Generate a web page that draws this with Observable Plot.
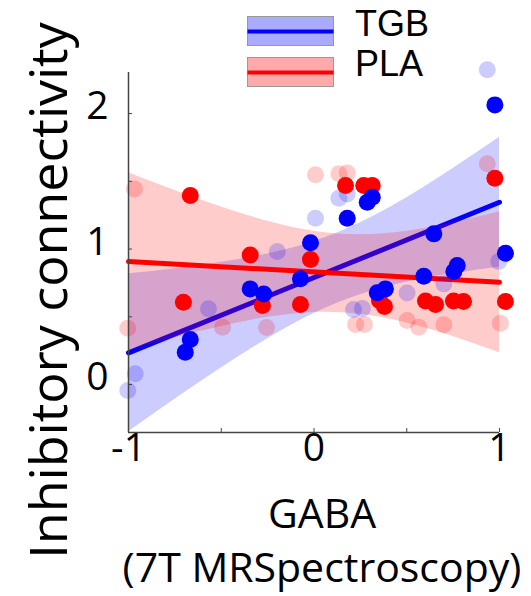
<!DOCTYPE html>
<html><head><meta charset="utf-8">
<script src="https://cdn.jsdelivr.net/npm/d3@7"></script>
<script src="https://cdn.jsdelivr.net/npm/@observablehq/plot@0.6"></script>
<style>
body{margin:0;background:#fff;}
</style></head><body>
<div id="wrap"></div>
<script>
// solid points
const tgbX = [0.975, 0.287, 0.314, 0.179, -0.019, -0.073, -0.344, -0.271, -0.667, -0.694, 0.646, 1.032, 0.772, 0.754, 0.592, 0.385, 0.341];
const tgbY = [2.064, 1.345, 1.382, 1.227, 1.046, 0.780, 0.706, 0.669, 0.332, 0.238, 1.112, 0.969, 0.878, 0.834, 0.799, 0.706, 0.677];
const plaX = [-0.667, -0.344, 0.170, 0.268, 0.314, -0.019, 0.975, -0.704, -0.278, -0.073, 0.353, 0.380, 0.601, 0.655, 0.752, 0.806, 1.032];
const plaY = [1.395, 0.956, 1.469, 1.469, 1.469, 0.923, 1.523, 0.607, 0.583, 0.590, 0.620, 0.576, 0.616, 0.590, 0.616, 0.613, 0.613];
// faded points
const tgbFadedX = [0.934, 0.134, 0.179, 0.008, -0.198, -0.569, -0.964, -1.004, 0.996, 0.700, 0.502, 0.213, 0.261];
const tgbFadedY = [2.323, 1.375, 1.407, 1.227, 0.982, 0.559, 0.079, -0.044, 0.908, 0.743, 0.675, 0.554, 0.561];
const plaFadedX = [-0.968, 0.008, 0.134, 0.179, 0.934, -1.004, -0.493, -0.256, 0.224, 0.272, 0.502, 0.565, 0.700, 1.005];
const plaFadedY = [1.444, 1.548, 1.555, 1.562, 1.629, 0.415, 0.423, 0.421, 0.443, 0.443, 0.472, 0.423, 0.441, 0.452];
// confidence bands
const bandX = [-1, -0.75, -0.5, -0.25, 0, 0.25, 0.5, 0.75, 1];
const tgbLower = [-0.349, -0.109, 0.122, 0.338, 0.524, 0.663, 0.756, 0.818, 0.865];
const tgbUpper = [0.817, 0.855, 0.902, 0.964, 1.056, 1.194, 1.378, 1.594, 1.825];
const plaLower = [0.252, 0.345, 0.429, 0.496, 0.532, 0.518, 0.454, 0.354, 0.235];
const plaUpper = [1.564, 1.433, 1.311, 1.206, 1.132, 1.106, 1.132, 1.194, 1.275];
// fit lines
const fitX = [-1, 1];
const tgbFit = [0.234, 1.345];
const plaFit = [0.908, 0.755];
// axes
const xDomain = [-1, 1];
const yDomain = [-0.354, 2.303];
const xTickMarks = [-1, -0.5, 0, 0.5, 1];
const yTickMarks = [0, 0.5, 1, 1.5, 2];
const xTickVals = [-1, 0, 1];
const xTickLabels = ["-1", "0", "1"];
const yTickVals = [0, 1, 2];
const yTickLabels = ["0", "1", "2"];
const xTitle = "GABA\n(7T MRSpectroscopy)";
const yTitle = "Inhibitory connectivity";
const seriesNames = ["TGB", "PLA"];
const seriesColors = ["blue", "red"];
const legendFills = ["#aaaaff", "#ffaaaa"];

const pts = (xs, ys) => xs.map((x, i) => ({x, y: ys[i]}));
const band = (lo, hi) => bandX.map((x, i) => ({x, lo: lo[i], hi: hi[i]}));

const chart = Plot.plot({
  width: 531, height: 596,
  marginLeft: 128, marginRight: 32, marginTop: 72, marginBottom: 164,
  x: {domain: xDomain},
  y: {domain: yDomain},
  style: {fontFamily: "Open Sans", background: "white", color: "black"},
  marks: [
    Plot.areaY(band(tgbLower, tgbUpper), {x: "x", y1: "lo", y2: "hi", fill: seriesColors[0], fillOpacity: 0.2, curve: "natural", clip: true}),
    Plot.line(pts(fitX, tgbFit), {x: "x", y: "y", stroke: seriesColors[0], strokeWidth: 5}),
    Plot.areaY(band(plaLower, plaUpper), {x: "x", y1: "lo", y2: "hi", fill: seriesColors[1], fillOpacity: 0.2, curve: "natural", clip: true}),
    Plot.line(pts(fitX, plaFit), {x: "x", y: "y", stroke: seriesColors[1], strokeWidth: 5}),
    Plot.dot(pts(plaFadedX, plaFadedY), {x: "x", y: "y", r: 8.5, fill: seriesColors[1], fillOpacity: 0.2}),
    Plot.dot(pts(tgbFadedX, tgbFadedY), {x: "x", y: "y", r: 8.5, fill: seriesColors[0], fillOpacity: 0.2}),
    Plot.dot(pts(plaX, plaY), {x: "x", y: "y", r: 8.5, fill: seriesColors[1]}),
    Plot.dot(pts(tgbX, tgbY), {x: "x", y: "y", r: 8.5, fill: seriesColors[0]}),
    Plot.ruleX([xDomain[0]], {stroke: "#444", strokeWidth: 1.5}),
    Plot.ruleY([yDomain[0]], {stroke: "#444", strokeWidth: 1.5}),
    Plot.axisY(yTickMarks, {tickSize: 4, dx: 4, fill: "none", stroke: "#444", label: null}),
    Plot.axisX(xTickMarks, {tickSize: 4, dy: -4, fill: "none", stroke: "#444", label: null}),
    Plot.axisY(yTickVals, {tickSize: 0, tickPadding: 20, fontSize: 39, dy: -7, label: null,
      tickFormat: d => yTickLabels[yTickVals.indexOf(d)]}),
    Plot.axisX(xTickVals, {tickSize: 0, tickPadding: 1, fontSize: 39, label: null,
      tickFormat: d => xTickLabels[xTickVals.indexOf(d)]}),
    Plot.text([yTitle], {frameAnchor: "left", rotate: -90, dx: -78, dy: 38, fontSize: 52, textAnchor: "middle", lineAnchor: "middle", fill: "black"}),
    Plot.text([xTitle], {frameAnchor: "bottom", dx: 8, dy: 56, fontSize: 41, textAnchor: "middle", lineAnchor: "top", lineHeight: 1.34, fill: "black"})
  ]
});

document.getElementById("wrap").appendChild(chart);

// legend drawn into the same SVG
const legTops = [16, 57];
const txtBase = [36, 76];
const g = d3.select(chart).append("g").attr("class", "legend");
seriesNames.forEach((name, i) => {
  g.append("rect").attr("x", 247.5).attr("y", legTops[i] + 0.5).attr("width", 86).attr("height", 29)
    .attr("fill", legendFills[i]).attr("stroke", "#999").attr("stroke-width", 1);
  g.append("line").attr("x1", 247.5).attr("x2", 333.5)
    .attr("y1", legTops[i] + 15.5).attr("y2", legTops[i] + 15.5)
    .attr("stroke", seriesColors[i]).attr("stroke-width", 4);
  g.append("text").attr("x", 355).attr("y", txtBase[i])
    .attr("text-anchor", "start")
    .attr("font-family", "Liberation Sans").attr("font-size", 36).attr("fill", "black")
    .text(name);
});
</script>
</body></html>
